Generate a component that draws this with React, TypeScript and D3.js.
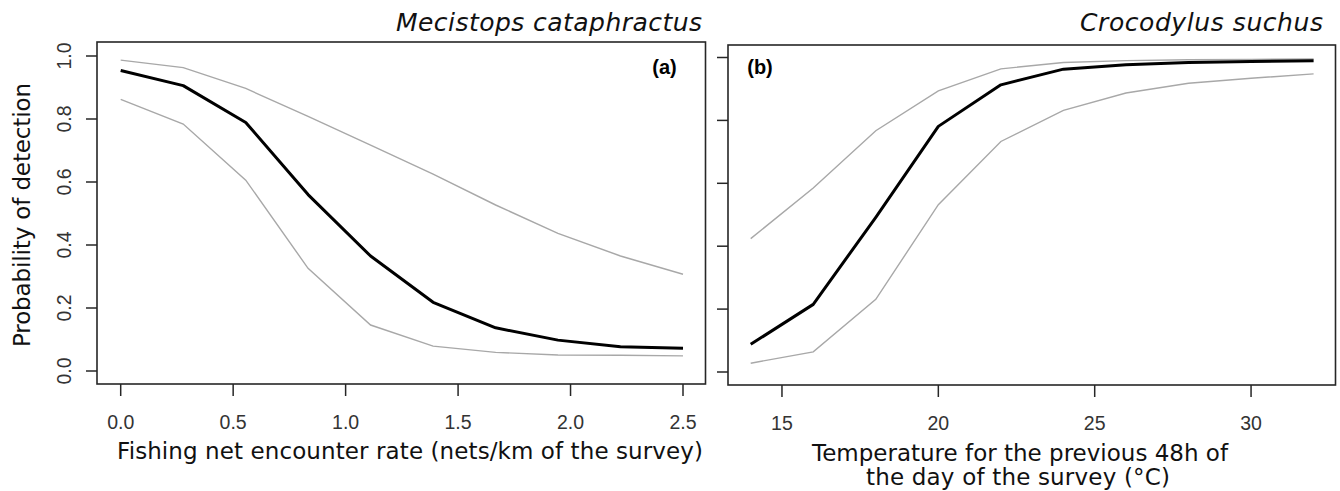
import React from "react";
import { scaleLinear, line } from "d3";

// panel (a): Mecistops cataphractus vs fishing net encounter rate
const netRate = [0, 0.278, 0.556, 0.833, 1.111, 1.389, 1.667, 1.944, 2.222, 2.5];
const netMean = [0.954, 0.906, 0.789, 0.56, 0.365, 0.218, 0.137, 0.098, 0.077, 0.072];
const netUpper = [0.987, 0.963, 0.897, 0.808, 0.717, 0.625, 0.527, 0.437, 0.365, 0.307];
const netLower = [0.862, 0.784, 0.606, 0.326, 0.146, 0.079, 0.059, 0.051, 0.05, 0.048];

// panel (b): Crocodylus suchus vs temperature
const temp = [14, 16, 18, 20, 22, 24, 26, 28, 30, 32];
const tempMean = [0.088, 0.215, 0.492, 0.781, 0.913, 0.963, 0.977, 0.984, 0.987, 0.99];
const tempUpper = [0.424, 0.585, 0.767, 0.894, 0.964, 0.984, 0.99, 0.993, 0.994, 0.995];
const tempLower = [0.028, 0.064, 0.231, 0.532, 0.733, 0.832, 0.887, 0.918, 0.934, 0.948];

const probTicks = [0, 0.2, 0.4, 0.6, 0.8, 1.0];
const netTicks = [0, 0.5, 1.0, 1.5, 2.0, 2.5];
const tempTicks = [15, 20, 25, 30];

const tickFont = "'Liberation Sans', Arial, sans-serif";
const labelFont = "'DejaVu Sans', Verdana, sans-serif";

type PanelProps = {
  xs: number[];
  mean: number[];
  upper: number[];
  lower: number[];
  xDomain: [number, number];
  xRange: [number, number];
  box: { left: number; right: number; top: number; bottom: number };
  yRange: [number, number];
  xTicks: number[];
  fmt: (d: number) => string;
  showYLabels: boolean;
};

function Panel({ xs, mean, upper, lower, xDomain, xRange, box, yRange, xTicks, fmt, showYLabels }: PanelProps) {
  const x = scaleLinear().domain(xDomain).range(xRange);
  const y = scaleLinear().domain([0, 1]).range(yRange);
  const gen = (vals: number[]) =>
    line<number>()
      .x((_, i) => x(xs[i]))
      .y((d) => y(d))(vals) || "";

  return (
    <g>
      <rect
        x={box.left}
        y={box.top}
        width={box.right - box.left}
        height={box.bottom - box.top}
        fill="none"
        stroke="#262626"
        strokeWidth={1.6}
      />
      {probTicks.map((t) => (
        <g key={"y" + t}>
          <line x1={box.left - 11} x2={box.left} y1={y(t)} y2={y(t)} stroke="#262626" strokeWidth={1.5} />
          {showYLabels && (
            <text
              transform={`translate(${box.left - 33.5},${y(t)}) rotate(-90)`}
              textAnchor="middle"
              dominantBaseline="central"
              fontFamily={tickFont}
              fontSize={19.5}
              fill="#333"
            >
              {t.toFixed(1)}
            </text>
          )}
        </g>
      ))}
      {xTicks.map((t) => (
        <g key={"x" + t}>
          <line x1={x(t)} x2={x(t)} y1={box.bottom} y2={box.bottom + 12} stroke="#262626" strokeWidth={1.5} />
          <text
            x={x(t)}
            y={box.bottom + 38}
            textAnchor="middle"
            dominantBaseline="central"
            fontFamily={tickFont}
            fontSize={19.5}
            fill="#333"
          >
            {fmt(t)}
          </text>
        </g>
      ))}
      <path d={gen(upper)} fill="none" stroke="#a8a8a8" strokeWidth={1.4} />
      <path d={gen(lower)} fill="none" stroke="#a8a8a8" strokeWidth={1.4} />
      <path d={gen(mean)} fill="none" stroke="#000" strokeWidth={3} strokeLinejoin="round" />
    </g>
  );
}

export default function App() {
  return (
    <svg width={1340} height={491} style={{ position: "absolute", left: 0, top: 0, background: "#fff" }}>
      <rect width={1340} height={491} fill="#fff" />
      <Panel
        xs={netRate}
        mean={netMean}
        upper={netUpper}
        lower={netLower}
        xDomain={[0, 2.5]}
        xRange={[120.7, 683]}
        box={{ left: 97, right: 705.5, top: 42, bottom: 384 }}
        yRange={[371, 56]}
        xTicks={netTicks}
        fmt={(d) => d.toFixed(1)}
        showYLabels={true}
      />
      <Panel
        xs={temp}
        mean={tempMean}
        upper={tempUpper}
        lower={tempLower}
        xDomain={[14, 32]}
        xRange={[750.7, 1313.6]}
        box={{ left: 728, right: 1335.5, top: 45, bottom: 385 }}
        yRange={[372, 57.5]}
        xTicks={tempTicks}
        fmt={(d) => String(d)}
        showYLabels={false}
      />
      <text x={702} y={31} textAnchor="end" fontFamily={labelFont} fontStyle="italic" fontSize={25} fill="#111"
        textLength={306} lengthAdjust="spacing">
        Mecistops cataphractus
      </text>
      <text x={1323} y={31} textAnchor="end" fontFamily={labelFont} fontStyle="italic" fontSize={25} fill="#111"
        textLength={243} lengthAdjust="spacing">
        Crocodylus suchus
      </text>
      <text x={664.5} y={67} textAnchor="middle" dominantBaseline="central" fontFamily={tickFont} fontWeight="bold" fontSize={20}>
        (a)
      </text>
      <text x={760} y={67} textAnchor="middle" dominantBaseline="central" fontFamily={tickFont} fontWeight="bold" fontSize={20}>
        (b)
      </text>
      <text
        transform="translate(22,215) rotate(-90)"
        textAnchor="middle"
        dominantBaseline="central"
        fontFamily={labelFont}
        fontSize={23}
        fill="#111"
        textLength={264}
        lengthAdjust="spacing"
      >
        Probability of detection
      </text>
      <text x={410} y={459} textAnchor="middle" fontFamily={labelFont} fontSize={23} fill="#111"
        textLength={586} lengthAdjust="spacing">
        Fishing net encounter rate (nets/km of the survey)
      </text>
      <text x={1020} y={461} textAnchor="middle" fontFamily={labelFont} fontSize={23} fill="#111"
        textLength={416} lengthAdjust="spacing">
        Temperature for the previous 48h of
      </text>
      <text x={1018} y={485} textAnchor="middle" fontFamily={labelFont} fontSize={23} fill="#111"
        textLength={304} lengthAdjust="spacing">
        the day of the survey (°C)
      </text>
    </svg>
  );
}
